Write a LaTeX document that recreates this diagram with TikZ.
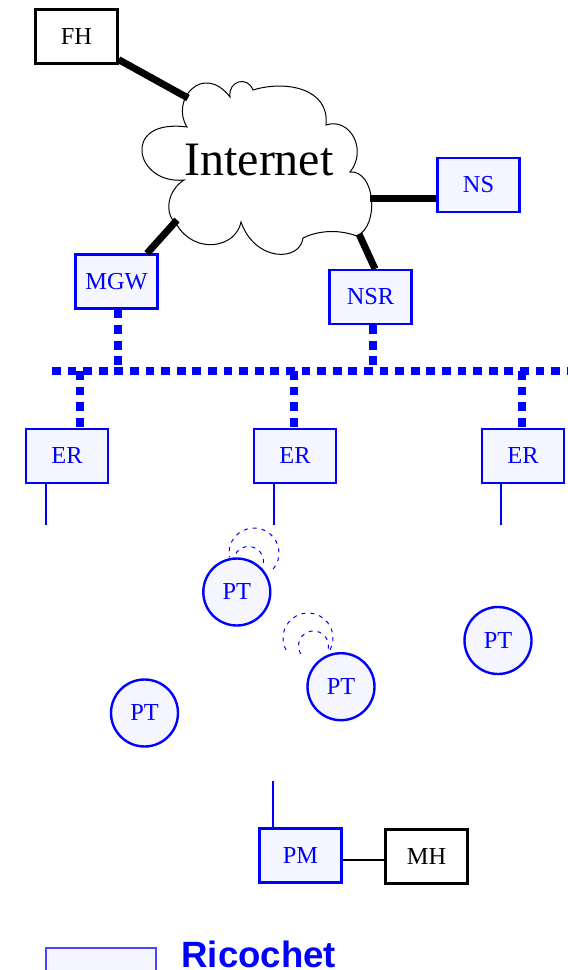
\documentclass[tikz,border=0pt]{standalone}
\usepackage{fontspec}
\setmainfont{Liberation Serif}
\newfontfamily\legendfont{Liberation Sans}
\definecolor{boxfill}{RGB}{245,246,255}
\definecolor{legendblue}{RGB}{70,70,255}
\newcommand\mylbl{\fontsize{12.2pt}{14pt}\selectfont}
\begin{document}
\begin{tikzpicture}[x=0.5pt,y=0.5pt,
  bluebox/.style={draw=blue, fill=boxfill, line width=1.1pt, minimum width=41pt, minimum height=27pt, inner sep=0pt, text=blue, font=\mylbl},
  blackbox/.style={draw=black, fill=white, line width=1.1pt, minimum width=41pt, minimum height=27pt, inner sep=0pt, text=black, font=\mylbl},
  ptnode/.style={circle, draw=blue, fill=boxfill, line width=1.2pt, minimum size=33.5pt, inner sep=0pt, text=blue, font=\mylbl},
  heavy/.style={line width=3.5pt, black},
  bus/.style={blue, line width=3.7pt, dash pattern=on 4.4pt off 3.4pt},
  tail/.style={blue, line width=1pt},
  wave/.style={blue, line width=0.5pt, dash pattern=on 2pt off 2.5pt},
  cloudline/.style={black, line width=0.5pt},
  legendbox/.style={draw=legendblue, fill=boxfill, line width=0.75pt, minimum width=55pt, minimum height=27pt, inner sep=0pt}]
\useasboundingbox (0,0) rectangle (568,-970);

% cloud
\draw[cloudline] (187,-127) .. controls (170,-100) and (203,-62) .. (230,-97)
  .. controls (228,-80) and (248,-76) .. (253,-90)
  .. controls (285,-80) and (330,-88) .. (326,-125)
  .. controls (350,-117) and (368,-150) .. (350,-172)
  .. controls (375,-170) and (380,-225) .. (357,-236)
  .. controls (335,-228) and (315,-232) .. (303,-238)
  .. controls (300,-262) and (255,-262) .. (241,-222)
  .. controls (236,-248) and (195,-255) .. (177,-225)
  .. controls (163,-213) and (168,-190) .. (184,-180)
  .. controls (135,-185) and (120,-118) .. (187,-127) -- cycle;
\node[anchor=base, font=\fontsize{24pt}{28pt}\selectfont] (inet) at (259,-175) {Internet};

\coordinate (inFH) at (188,-98);
\coordinate (inNS) at (370,-198);
\coordinate (inMGW) at (177,-220);
\coordinate (inNSR) at (359,-234);
\coordinate (busL) at (52,-371);
\coordinate (busR) at (568,-371);

% wireless arcs
\draw[wave] (254,-553) ++(-40:12.5pt) arc[start angle=-40, end angle=190, radius=12.5pt];
\draw[wave] (248.5,-561.5) ++(-40:7.5pt) arc[start angle=-40, end angle=185, radius=7.5pt];
\draw[wave] (308,-638) ++(-28:12.5pt) arc[start angle=-28, end angle=219, radius=12.5pt];
\draw[wave] (313.5,-646) ++(-10:7.5pt) arc[start angle=-10, end angle=217, radius=7.5pt];

% nodes
\node[blackbox] (FH) at (76.5,-36.5) {FH};
\node[bluebox] (NS) at (478.5,-185) {NS};
\node[bluebox] (MGW) at (116.5,-281.5) {MGW};
\node[bluebox] (NSR) at (370.5,-297) {NSR};
\node[bluebox] (ER1) at (67,-456) {ER};
\node[bluebox] (ER2) at (295,-456) {ER};
\node[bluebox] (ER3) at (523,-456) {ER};
\node[ptnode] (PT1) at (236.8,-592) {PT};
\node[ptnode] (PT2) at (341,-686.7) {PT};
\node[ptnode] (PT3) at (498,-640.5) {PT};
\node[ptnode] (PT4) at (144.5,-713) {PT};
\node[bluebox] (PM) at (300.5,-855.5) {PM};
\node[blackbox] (MH) at (426.5,-856.5) {MH};

% heavy links to the cloud
\draw[heavy] ([yshift=2.5pt]FH.south east) -- (inFH);
\draw[heavy] (inNS) -- (inNS -| NS.west);
\draw[heavy] ([xshift=15.25pt]MGW.north) -- (inMGW);
\draw[heavy] ([xshift=2.25pt]NSR.north) -- (inNSR);

% bus
\draw[bus] (busL) -- (busR);
\draw[bus] ([xshift=0.75pt]MGW.south) -- ([xshift=0.75pt]MGW.south |- busL);
\draw[bus] ([xshift=1.25pt]NSR.south) -- ([xshift=1.25pt]NSR.south |- busL);
\draw[bus] ([xshift=6.5pt]ER1.north |- busL) -- ([xshift=6.5pt]ER1.north);
\draw[bus] ([xshift=-0.5pt]ER2.north |- busL) -- ([xshift=-0.5pt]ER2.north);
\draw[bus] ([xshift=-0.5pt]ER3.north |- busL) -- ([xshift=-0.5pt]ER3.north);

% antennas
\draw[tail] ([xshift=-10.5pt]ER1.south) -- ++(0,-41);
\draw[tail] ([xshift=-10.5pt]ER2.south) -- ++(0,-41);
\draw[tail] ([xshift=-11pt]ER3.south) -- ++(0,-41);
\draw[tail] ([xshift=-13.75pt]PM.north) -- ++(0,46);

\draw[black, line width=1pt] ([yshift=-2pt]PM.east) -- ([yshift=-2pt]PM.east -| MH.west);

% legend
\node[legendbox] (legend) at (101,-975) {};
\node[anchor=base west, inner sep=0pt, text=blue, font=\legendfont\bfseries\fontsize{18.3pt}{20pt}\selectfont] (ricochet) at (181,-967) {Ricochet};
\end{tikzpicture}
\end{document}
